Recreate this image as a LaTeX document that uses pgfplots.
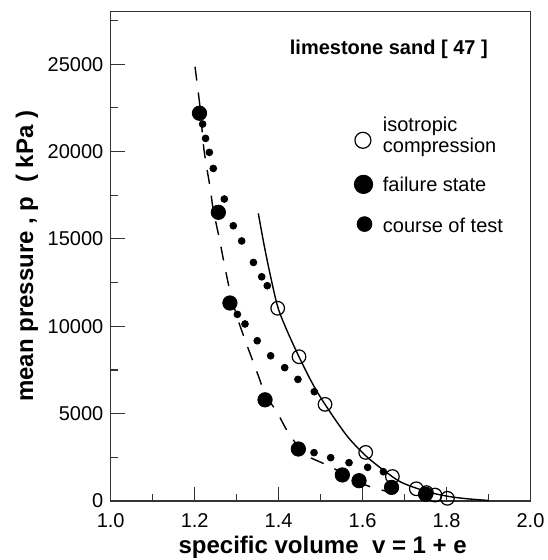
\documentclass[border=0pt]{standalone}
\usepackage{fontspec}
\setmainfont{Liberation Sans}
\usepackage{pgfplots}
\pgfplotsset{compat=1.18}
\begin{document}
\begin{tikzpicture}
\begin{axis}[
  scale only axis,
  width=209.9pt, height=244.65pt,
  xmin=1.0, xmax=2.0, ymin=0, ymax=28000,
  xtick={1.0,1.2,1.4,1.6,1.8,2.0},
  minor xtick={1.1,1.3,1.5,1.7,1.9},
  ytick={0,5000,10000,15000,20000,25000},
  minor ytick={2500,7500,12500,17500,22500,27500},
  tick align=inside, xtick pos=bottom, ytick pos=left,
  major tick length=7pt, minor tick length=3.5pt,
  axis line style={black!80, line width=0.6pt},
  every tick/.style={black!80, line width=0.6pt},
  scaled y ticks=false,
  /pgf/number format/assume math mode=true,
  tick label style={font=\fontsize{10}{12}\selectfont},
  yticklabel style={inner sep=0pt, xshift=-3.5pt, /pgf/number format/.cd, fixed, 1000 sep={}},
  xticklabel style={inner sep=0pt, yshift=-6pt, /pgf/number format/.cd, fixed, fixed zerofill, precision=1},
  xlabel={specific volume\ \ v = 1 + e},
  ylabel={mean pressure , p\ \ ( kPa )},
  label style={font=\fontsize{12}{14}\selectfont\bfseries},
  xlabel style={at={(axis description cs:0.505,-0.108)}, anchor=base},
  ylabel style={at={(axis description cs:-0.185,0.5)}, anchor=base},
  legend cell align=left,
  legend style={draw=none, fill=none, at={(axis description cs:0.5808,0.7895)}, anchor=north west,
    inner sep=0pt, row sep=0pt, column sep=0pt,
    cells={anchor=base west}, nodes={inner sep=0pt, anchor=base west},
    font=\fontsize{10}{12}\selectfont},
]
\addlegendimage{legend image code/.code={\path[draw=none,fill=none] (0pt,0pt) -- (14pt,0pt); \draw[overlay, black, only marks, mark=o, mark size=4pt, mark options={line width=0.6pt}] plot coordinates {(4pt,-4.6pt)};}}
\addlegendentry{\rule[-2pt]{0pt}{10pt}isotropic}
\addlegendimage{legend image code/.code={\path[draw=none,fill=none] (0pt,0pt) -- (14pt,0pt);}}
\addlegendentry{\rule[-2pt]{0pt}{11pt}compression}
\addlegendimage{legend image code/.code={\path[draw=none,fill=none] (0pt,0pt) -- (14pt,0pt); \draw[overlay, black, only marks, mark=*, mark size=4.6pt] plot coordinates {(4.3pt,3.35pt)};}}
\addlegendentry{\rule[-2pt]{0pt}{20pt}failure state}
\addlegendimage{legend image code/.code={\path[draw=none,fill=none] (0pt,0pt) -- (14pt,0pt); \draw[overlay, black, only marks, mark=*, mark size=3.7pt] plot coordinates {(4.8pt,4.15pt)};}}
\addlegendentry{\rule[-2pt]{0pt}{21.15pt}course of test}

% isotropic compression line (solid)
\addplot[black, line width=0.7pt, smooth, forget plot] coordinates {
(1.3516,16460) (1.3650,14700) (1.3795,13000) (1.3980,11100) (1.4200,9750)
(1.4486,8250) (1.4800,6750) (1.5105,5530) (1.5620,3750) (1.6070,2600)
(1.6490,1780) (1.6890,1110) (1.7290,725) (1.7685,440) (1.8080,250)
(1.8480,130) (1.9000,30)
};
% failure line (dashed)
\addplot[black, line width=0.7pt, dash pattern=on 7pt off 6pt, smooth, forget plot] coordinates {
(1.2008,24850) (1.2127,22560) (1.2222,20100) (1.2365,17980) (1.2444,16650)
(1.2587,15030) (1.2706,13550) (1.2842,12000) (1.3000,10600) (1.3216,9114)
(1.3437,7683) (1.3557,6900) (1.3676,6100) (1.3954,5109) (1.4192,4062)
(1.4390,3350) (1.4456,3000) (1.4700,2550) (1.5065,2150) (1.5384,1773)
(1.5600,1450) (1.6180,818) (1.7020,280)
};
% course of test
\addplot[only marks, mark=*, mark size=1.7pt, black, forget plot] coordinates {
(1.219,21570) (1.226,20750) (1.235,19950) (1.2444,19030) (1.2706,17280)
(1.292,15750) (1.312,14880) (1.340,13650) (1.3597,12830) (1.373,12320)
(1.3017,10680) (1.3199,10130) (1.349,9170) (1.381,8310) (1.4144,7630)
(1.446,6960) (1.485,6255) (1.4843,2766) (1.524,2480) (1.5677,2193)
(1.612,1927) (1.6495,1677)
};
% failure state
\addplot[only marks, mark=*, mark size=3.6pt, black, forget plot] coordinates {
(1.2115,22190) (1.2564,16520) (1.284,11330) (1.3676,5790) (1.447,2975)
(1.5518,1490) (1.5915,1162) (1.669,780) (1.750,390)
};
% isotropic compression
\addplot[only marks, mark=o, mark size=3.4pt, black, mark options={line width=0.6pt}, forget plot] coordinates {
(1.3978,11030) (1.4486,8256) (1.5105,5530) (1.6074,2780) (1.671,1400)
(1.728,700) (1.752,480) (1.7725,340) (1.802,153)
};
\node[anchor=base east, font=\fontsize{10}{12}\selectfont\bfseries] at (axis description cs:0.915,0.9115) {limestone sand [ 47 ]};
\end{axis}
\pgfresetboundingbox
\useasboundingbox ([xshift=-55.35pt,yshift=-29.5pt]current axis.south west) rectangle ([xshift=8.25pt,yshift=5.85pt]current axis.north east);
\end{tikzpicture}
\end{document}
